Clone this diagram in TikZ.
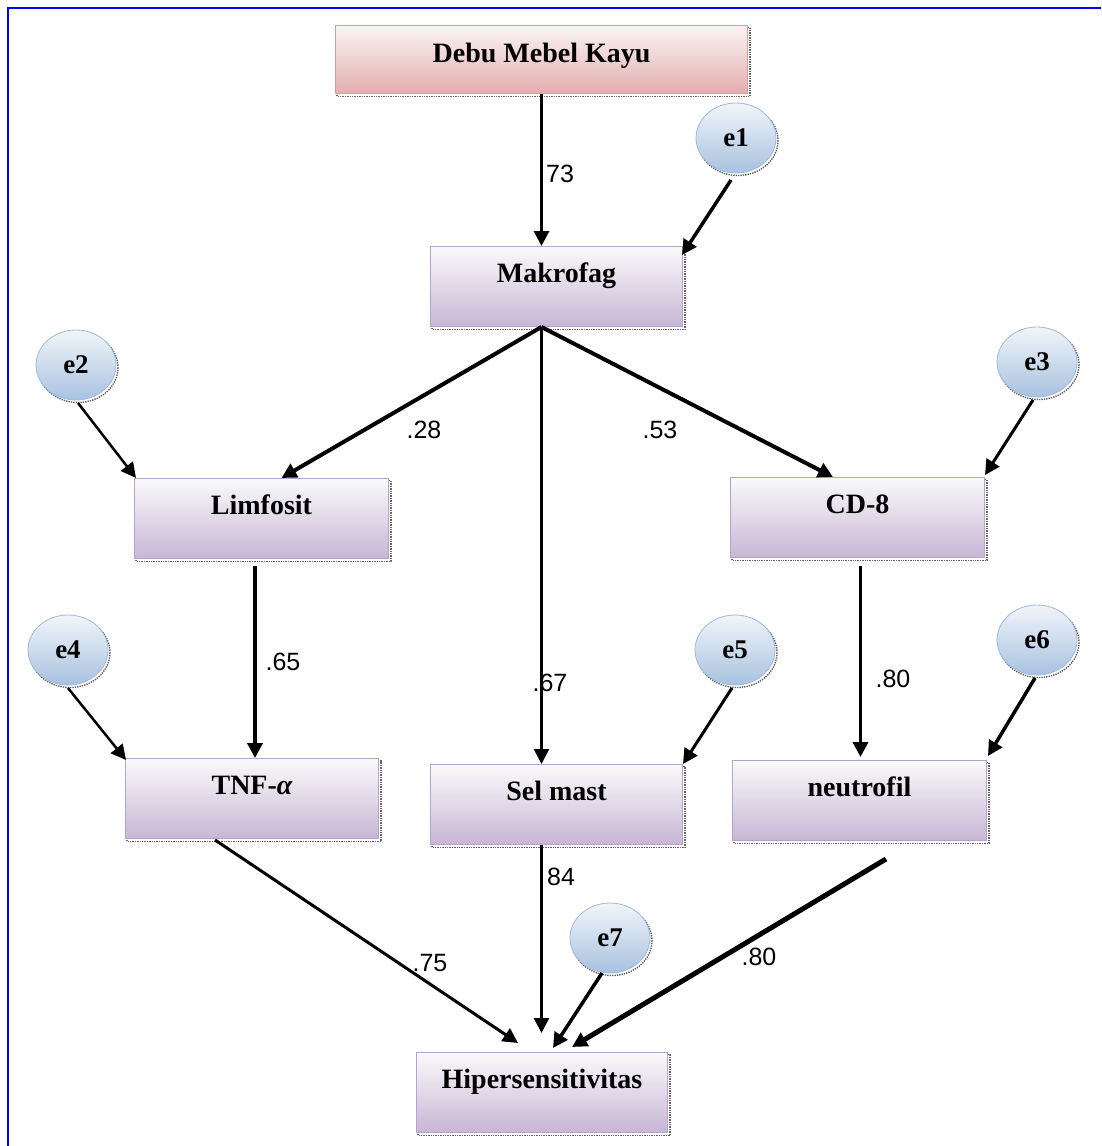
\documentclass[tikz,border=0pt]{standalone}
\usepackage{fontspec}
\setmainfont{Liberation Serif}
\newfontfamily\labfont{Liberation Sans}
\usetikzlibrary{arrows.meta,calc,shapes.geometric,backgrounds}
\definecolor{boxtop}{HTML}{FAFAFA}
\definecolor{boxbot}{HTML}{C7B6D5}
\definecolor{boxline}{HTML}{B6A2CF}
\definecolor{redtop}{HTML}{FBF4F4}
\definecolor{redbot}{HTML}{E3AEAE}
\definecolor{redline}{HTML}{D79C9C}
\definecolor{elltop}{HTML}{F1F5FA}
\definecolor{ellbot}{HTML}{A8C2E0}
\definecolor{ellline}{HTML}{9DB9DC}
\definecolor{frameblue}{HTML}{0000FF}
\newcommand\bxfont{\fontsize{28}{33}\selectfont\bfseries}
\newcommand\elfont{\fontsize{27}{31}\selectfont\bfseries}
\newcommand\cofont{\labfont\fontsize{25}{30}\selectfont}
\begin{document}
\begin{tikzpicture}[x=1pt,y=-1pt,
  box/.style={draw=boxline, line width=1pt, top color=boxtop, bottom color=boxbot,
    anchor=north west, minimum width=#1, inner xsep=0pt, inner ysep=0pt,
    text height=36pt, text depth=44pt, font=\bxfont},
  redbox/.style={box=#1, draw=redline, top color=redtop, bottom color=redbot,
    text height=37pt, text depth=31pt},
  err/.style={ellipse, draw=ellline, line width=0.8pt, top color=elltop, bottom color=ellbot,
    minimum width=80pt, minimum height=70pt, inner sep=0pt, font=\elfont},
  coef/.style={font=\cofont, inner sep=0pt},
  shadowline/.style={draw=black!60, densely dotted, line width=1.4pt},
  arr/.style={-{Triangle[length=15pt,width=15pt]}, line width=#1}
]
\useasboundingbox (0,0) rectangle (1101,1146);
\draw[frameblue, line width=2pt] (8,1146) -- (8,8) -- (1101,8);

% boxes
\node[redbox=412pt] (debu) at (335,25) {Debu Mebel Kayu};
\node[box=252pt] (mak) at (430,246) {Makrofag};
\node[box=254pt] (lim) at (134,478) {Limfosit};
\node[box=254pt] (cd8) at (730,477) {CD-8};
\node[box=253pt] (tnf) at (125,758) {TNF-{\itshape α}};
\node[box=252pt] (sel) at (430,764) {Sel mast};
\node[box=254pt] (neu) at (732,760) {neutrofil};
\node[box=251pt] (hip) at (416,1052) {Hipersensitivitas};

% error terms
\node[err] (e1) at (736,138) {e1};
\node[err] (e2) at (76,365) {e2};
\node[err] (e3) at (1037,362) {e3};
\node[err] (e4) at (68,650) {e4};
\node[err] (e5) at (735,650) {e5};
\node[err] (e6) at (1037,640) {e6};
\node[err] (e7) at (610,938) {e7};

% shadows
\begin{scope}[on background layer]
\foreach \b in {debu,mak,lim,cd8,tnf,sel,neu,hip}
  \draw[shadowline] ($(\b.north west)+(2,2.5)$) rectangle ($(\b.south east)+(2,2.5)$);
\foreach \e in {e1,e2,e3,e4,e5,e6,e7}
  \draw[shadowline] ($(\e.center)+(2,2.5)$) ellipse [x radius=40, y radius=35];
\end{scope}

\coordinate (hub) at (debu.south |- mak.south);

% connectors
\draw[arr=3] (debu.south) -- (debu.south |- mak.north);
\draw[arr=3.5] ($(e1.center)+(-5,42)$) -- ($(mak.north east)+(-1,9)$);
\draw[arr=4] (hub) -- ($(lim.north)+(20,0)$);
\draw[arr=4] (hub) -- ($(cd8.north)+(-24.5,0)$);
\draw[arr=2.5] (hub) -- (hub |- sel.north);
\draw[arr=2.5] ($(e2.center)+(2,38)$) -- ($(lim.north west)+(2,0)$);
\draw[arr=3] ($(e3.center)+(-4,38)$) -- ($(cd8.north east)+(0,-2)$);
\draw[arr=4] ($(lim.south)+(-6.5,7)$) -- ($(tnf.north)+(3,0)$);
\draw[arr=3.5] ($(cd8.south)+(3,8)$) -- ($(neu.north)+(1,-3)$);
\draw[arr=2.5] ($(e4.center)+(0,38)$) -- ($(tnf.north west)+(1,2)$);
\draw[arr=3] ($(e5.center)+(-3,38)$) -- (sel.north east);
\draw[arr=3.5] ($(e6.center)+(-2,38)$) -- ($(neu.north east)+(1,-4)$);
\draw[arr=3] ($(tnf.south)+(-37,1)$) -- ($(hip.north)+(-24,-9)$);
\draw[arr=2.5] (hub |- sel.south) -- ($(hip.north)+(-0.5,-19)$);
\draw[arr=3.5] ($(e7.center)+(-8,35)$) -- ($(hip.north)+(11,-4)$);
\draw[arr=5] ($(neu.south)+(26.5,18)$) -- ($(hip.north)+(30,-5)$);

% coefficients
\node[coef] (c1) at (560,174) {73};
\node[coef] (c2) at (424,430) {.28};
\node[coef] (c3) at (660,430) {.53};
\node[coef] (c4) at (550,683) {.67};
\node[coef] (c5) at (283,662) {.65};
\node[coef] (c6) at (893,679) {.80};
\node[coef] (c7) at (430,963) {.75};
\node[coef] (c8) at (561,877) {84};
\node[coef] (c9) at (759,957) {.80};
\end{tikzpicture}
\end{document}
